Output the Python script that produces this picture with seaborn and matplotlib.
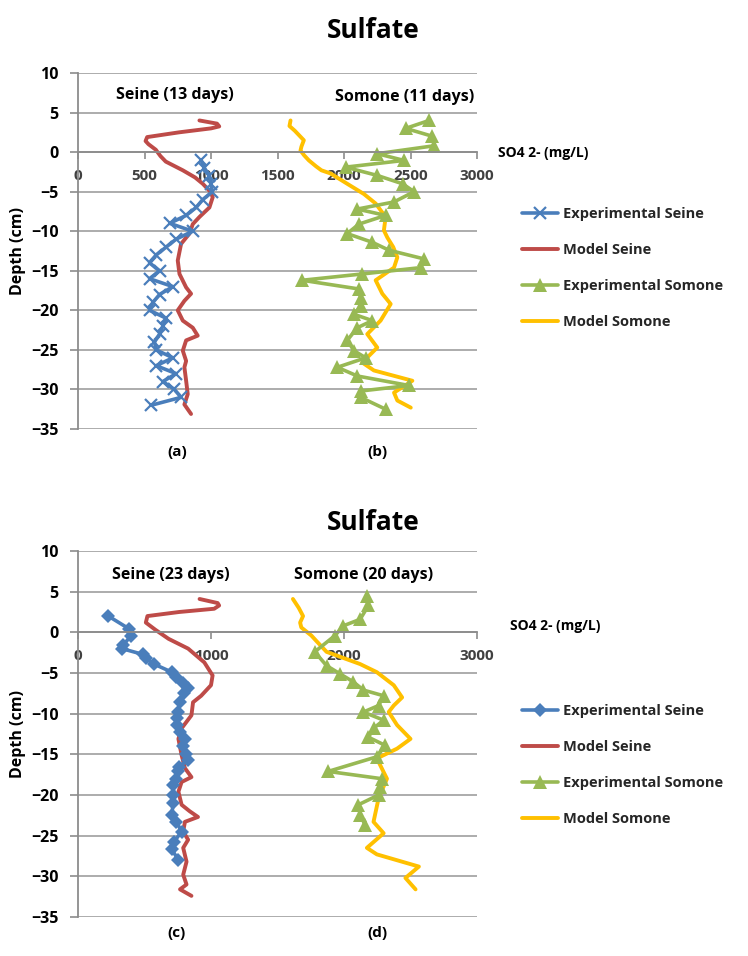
import numpy as np
import pandas as pd
import matplotlib
matplotlib.use("Agg")
import matplotlib.pyplot as plt
import seaborn as sns
from matplotlib.lines import Line2D

# ---------------- data ----------------
# (a) Seine 13 days - experimental
seine13_exp_depth = [-1, -2, -3, -4, -5, -6, -7, -8, -9, -10, -11, -12, -13, -14, -15, -16,
                     -17, -18, -19, -20, -21, -22, -23, -24, -25, -26, -27, -28, -29, -30, -31, -32]
seine13_exp_val = [925, 950, 988, 1000, 1010, 938, 888, 813, 690, 862, 738, 663, 588, 538, 613, 538,
                   713, 613, 563, 538, 663, 638, 613, 575, 588, 713, 588, 738, 638, 725, 775, 550]
# (a) Seine model
seine13_mod_depth = [4.0, 3.6, 3.25, 3.0, 2.5, 1.9, 1.4, 1.0, 0.3, -0.5, -1.2, -2.3, -3.2, -4.0, -5.0,
                     -5.7, -7.0, -8.2, -9.1, -10.3, -11.6, -13.7, -15.4, -17.1, -17.9, -18.8, -20.0,
                     -21.3, -22.2, -23.2, -23.8, -25.1, -26.4, -27.2, -28.9, -30.6, -31.9, -33.1]
seine13_mod_val = [913, 1045, 1062, 1000, 760, 520, 508, 530, 585, 620, 660, 788, 880, 938, 995,
                   1013, 988, 913, 863, 838, 775, 750, 763, 813, 850, 800, 750,
                   788, 863, 900, 813, 788, 813, 800, 813, 825, 800, 850]
# (b) Somone 11 days - experimental
somone11_exp_depth = [4.0, 3.0, 2.0, 0.8, -0.2, -1.05, -1.9, -2.95, -4.0, -5.0, -6.3, -7.2, -8.0, -9.1,
                      -10.3, -11.4, -12.4, -13.5, -14.6, -15.4, -16.2, -17.3, -18.4, -19.5, -20.5,
                      -21.3, -22.2, -23.8, -25.1, -26.0, -27.2, -28.3, -29.5, -30.2, -31.0, -32.5]
somone11_exp_val = [2640, 2464, 2665, 2677, 2250, 2451, 2012, 2250, 2440, 2527, 2376, 2100, 2313, 2112,
                    2024, 2213, 2338, 2602, 2577, 2138, 1686, 2112, 2125, 2125, 2075,
                    2213, 2100, 2024, 2075, 2163, 1950, 2100, 2489, 2125, 2125, 2313]
# (b) Somone model
somone11_mod_depth = [4.0, 3.3, 2.7, 1.5, 0.7, 0.2, -0.4, -1.05, -1.8, -2.3, -2.7, -4.0, -5.3, -6.5, -8.2,
                      -9.9, -10.8, -12.0, -13.3, -14.6, -16.2, -17.9, -19.2, -21.3, -23.0, -24.7, -26.6,
                      -27.6, -28.9, -30.4, -31.4, -32.3]
somone11_mod_val = [1598, 1590, 1630, 1698, 1680, 1673, 1700, 1736, 1790, 1830, 1899, 2024, 2150, 2238, 2313,
                    2300, 2326, 2370, 2401, 2376, 2238, 2288, 2351, 2275, 2175, 2250, 2137,
                    2225, 2514, 2376, 2401, 2502]

# (c) Seine 23 days - experimental
seine23_exp_depth = [2.0, 0.4, -0.4, -1.6, -2.0, -2.7, -3.2, -3.9, -4.9, -5.5, -6.2, -6.9, -7.5, -8.6,
                     -9.8, -10.5, -11.4, -12.2, -13.1, -14.0, -15.0, -15.7, -16.5, -17.1, -18.0, -18.8,
                     -20.0, -21.0, -22.4, -23.3, -24.5, -25.8, -26.7, -28.0]
seine23_exp_val = [228, 387, 400, 338, 330, 485, 510, 571, 706, 740, 790, 828, 800, 767,
                   755, 745, 742, 770, 804, 790, 810, 828, 760, 755, 735, 718,
                   718, 715, 706, 740, 779, 720, 706, 755]
# (c) Seine model
seine23_mod_depth = [4.1, 3.6, 3.3, 2.9, 2.5, 2.0, 1.2, 0.3, -0.8, -2.0, -3.7, -5.3, -6.5, -7.8, -8.6,
                     -10.2, -11.8, -13.1, -15.1, -16.7, -17.8, -18.4, -19.6, -21.2, -22.0, -22.7, -23.3,
                     -24.5, -25.5, -26.5, -28.2, -29.8, -31.0, -31.6, -32.4]
seine23_mod_val = [914, 1050, 1061, 1024, 760, 522, 510, 583, 681, 828, 950, 1012, 1000, 926, 865,
                   853, 779, 755, 779, 804, 853, 779, 755, 779, 840, 902, 804,
                   791, 828, 791, 816, 791, 816, 767, 853]
# (d) Somone 20 days - experimental
somone20_exp_depth = [4.5, 3.3, 1.6, 0.8, -0.4, -2.4, -4.1, -5.1, -6.1, -7.1, -7.8, -9.0, -9.8, -10.8,
                      -11.8, -12.9, -13.9, -15.3, -17.1, -18.0, -19.0, -20.0, -21.2, -22.4, -23.7]
somone20_exp_val = [2172, 2184, 2121, 1995, 1932, 1780, 1869, 1970, 2071, 2146, 2298, 2260, 2146, 2298,
                    2222, 2184, 2310, 2247, 1881, 2285, 2273, 2260, 2108, 2121, 2159]
# (d) Somone model
somone20_mod_depth = [4.1, 3.0, 2.0, 1.2, 0.6, -0.4, -1.2, -2.4, -3.9, -4.9, -6.5, -8.0, -9.0, -9.8,
                      -11.4, -13.1, -14.3, -15.5, -18.0, -20.4, -23.3, -24.7, -26.5, -27.3, -28.8,
                      -30.2, -31.6]
somone20_mod_val = [1616, 1660, 1692, 1670, 1679, 1755, 1800, 1869, 2121, 2247, 2374, 2437, 2374, 2336,
                    2399, 2500, 2399, 2247, 2323, 2260, 2222, 2298, 2172, 2247, 2563,
                    2462, 2538]

legend_labels = ["Experimental Seine", "Model Seine", "Experimental Somone", "Model Somone"]
panel_titles = ["Sulfate", "Sulfate"]
xtick_sets = [[0, 500, 1000, 1500, 2000, 2500, 3000], [0, 1000, 2000, 3000]]
yticks = [10, 5, 0, -5, -10, -15, -20, -25, -30, -35]

# ---------------- styling ----------------
sns.set_theme(style="white")
plt.rcParams["font.family"] = ["Open Sans", "DejaVu Sans"]
plt.rcParams["font.weight"] = "bold"

C_BLUE = "#4A7EBB"
C_RED = "#BE4B48"
C_GREEN = "#98B954"
C_YEL = "#FFC000"
GRID = "#A6A6A6"

W, H = 748, 956
fig = plt.figure(figsize=(W / 100, H / 100), dpi=100)


def fx(x):
    return x / W


def fy(y):
    return 1 - y / H


def make_axes(top, bottom):
    ax = fig.add_axes([fx(78), fy(bottom), (477 - 78) / W, (bottom - top) / H])
    return ax


panels = [
    dict(top=73, bottom=429, xt=xtick_sets[0], marker="x",
         exp1=(seine13_exp_val, seine13_exp_depth), mod1=(seine13_mod_val, seine13_mod_depth),
         exp2=(somone11_exp_val, somone11_exp_depth), mod2=(somone11_mod_val, somone11_mod_depth),
         title_y=30, lab1=("Seine (13 days)", 175, 95), lab2=("Somone (11 days)", 405, 97),
         unit_y=153, unit_x=498, sub=("(a)", "(b)"), sub_y=452, leg_y=207),
    dict(top=551, bottom=917, xt=xtick_sets[1], marker="D",
         exp1=(seine23_exp_val, seine23_exp_depth), mod1=(seine23_mod_val, seine23_mod_depth),
         exp2=(somone20_exp_val, somone20_exp_depth), mod2=(somone20_mod_val, somone20_mod_depth),
         title_y=523, lab1=("Seine (23 days)", 171, 575), lab2=("Somone (20 days)", 364, 575),
         unit_y=626, unit_x=510, sub=("(c)", "(d)"), sub_y=933, leg_y=704),
]

for i, p in enumerate(panels):
    ax = make_axes(p["top"], p["bottom"])
    ax.set_xlim(0, 3000)
    ax.set_ylim(-35, 10)
    ax.set_xticks(p["xt"])
    ax.set_yticks(yticks)
    ax.set_axisbelow(True)
    ax.yaxis.grid(True, color=GRID, lw=1.3)
    ax.xaxis.grid(False)
    for s in ["top", "right"]:
        ax.spines[s].set_visible(False)
    ax.spines["left"].set_color("#8C8C8C")
    ax.spines["left"].set_linewidth(1.3)
    ax.spines["bottom"].set_position(("data", 0))
    ax.spines["bottom"].set_color("#8C8C8C")
    ax.spines["bottom"].set_linewidth(1.3)
    ax.tick_params(axis="y", which="both", left=True, length=6, width=1.2, color="#8C8C8C",
                   labelsize=11.5, labelcolor="black", pad=8)
    ax.tick_params(axis="x", which="both", bottom=True, direction="out", length=5, width=1.2,
                   color="#8C8C8C", labelsize=11, labelcolor="#404040", pad=7)
    for t in ax.get_xticklabels() + ax.get_yticklabels():
        t.set_fontweight("bold")
    ax.set_xlabel("")
    ax.set_ylabel("")

    mk = p["marker"]
    if mk == "x":
        exp_kw = dict(marker="x", markersize=9, markeredgewidth=1.6, markeredgecolor=C_BLUE)
    else:
        exp_kw = dict(marker="D", markersize=7.5, markeredgewidth=0, markerfacecolor=C_BLUE)

    sns.lineplot(x=p["mod1"][0], y=p["mod1"][1], sort=False, estimator=None, ax=ax,
                 color=C_RED, lw=2.8, legend=False)
    sns.lineplot(x=p["exp1"][0], y=p["exp1"][1], sort=False, estimator=None, ax=ax,
                 color=C_BLUE, lw=2.6, legend=False, **exp_kw)
    sns.lineplot(x=p["mod2"][0], y=p["mod2"][1], sort=False, estimator=None, ax=ax,
                 color=C_YEL, lw=2.8, legend=False)
    sns.lineplot(x=p["exp2"][0], y=p["exp2"][1], sort=False, estimator=None, ax=ax,
                 color=C_GREEN, lw=2.6, legend=False, marker="^", markersize=10,
                 markeredgewidth=0, markerfacecolor=C_GREEN)

    # texts
    fig.text(fx(373), fy(p["title_y"]), panel_titles[i], ha="center", va="center",
             fontsize=19, fontweight="bold", color="black")
    fig.text(fx(p["lab1"][1]), fy(p["lab1"][2]), p["lab1"][0], ha="center", va="center",
             fontsize=11.5, fontweight="bold", color="black")
    fig.text(fx(p["lab2"][1]), fy(p["lab2"][2]), p["lab2"][0], ha="center", va="center",
             fontsize=11.5, fontweight="bold", color="black")
    fig.text(fx(p["unit_x"]), fy(p["unit_y"]), "SO4 2- (mg/L)", ha="left", va="center",
             fontsize=10, fontweight="bold", color="black")
    fig.text(fx(177), fy(p["sub_y"]), p["sub"][0], ha="center", va="center",
             fontsize=11, fontweight="bold", color="black")
    fig.text(fx(377), fy(p["sub_y"]), p["sub"][1], ha="center", va="center",
             fontsize=11, fontweight="bold", color="black")
    fig.text(fx(18), fy((p["top"] + p["bottom"]) / 2), "Depth (cm)", rotation=90,
             ha="center", va="center", fontsize=11.5, fontweight="bold", color="black")

    handles = [
        Line2D([], [], color=C_BLUE, lw=2.6, **exp_kw),
        Line2D([], [], color=C_RED, lw=2.8),
        Line2D([], [], color=C_GREEN, lw=2.6, marker="^", markersize=10, markeredgewidth=0),
        Line2D([], [], color=C_YEL, lw=2.8),
    ]
    fig.legend(handles, legend_labels, loc="upper left",
               bbox_to_anchor=(fx(522), fy(p["leg_y"])), frameon=False,
               prop=dict(size=10.5, weight="bold"), labelspacing=1.5,
               handlelength=2.5, handletextpad=0.3, borderaxespad=0, borderpad=0)

fig.savefig("out.png", dpi=100)
